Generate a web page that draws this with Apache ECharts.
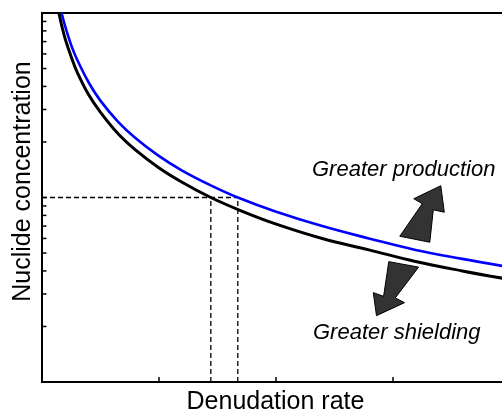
<!DOCTYPE html>
<html>
<head>
<meta charset="utf-8">
<script src="https://cdn.jsdelivr.net/npm/echarts@6/dist/echarts.min.js"></script>
<style>
  html, body { margin: 0; padding: 0; background: #fff; }
  #chart { width: 502px; height: 411px; }
</style>
</head>
<body>
<div id="chart"></div>
<script>
// Concentration versus denudation rate for two production scenarios
const lowerCurve = [
  [0.145, 100], [0.17, 85], [0.2, 72], [0.25, 58], [0.3, 48], [0.4, 36],
  [0.5, 29], [0.65, 22.2], [0.8, 18.1], [1.0, 14.5], [1.2, 12.1], [1.446, 10],
  [1.7, 8.5], [2.0, 7.2], [2.4, 6.0], [2.8, 5.2], [3.2, 4.5], [3.6, 4.0], [4.0, 3.6]
];
const upperCurve = [
  [0.168, 100], [0.2, 84], [0.25, 67], [0.3, 56], [0.4, 42], [0.5, 33.5],
  [0.65, 25.8], [0.8, 21], [1.0, 16.8], [1.2, 14], [1.45, 11.6], [1.677, 10],
  [2.0, 8.4], [2.4, 7.0], [2.8, 6.0], [3.2, 5.2], [3.6, 4.65], [4.0, 4.2]
];

// Reference concentration and the two rates that yield it
const refConcentration = 10;
const rateLower = 1.446;
const rateUpper = 1.677;

// Minor ticks of the logarithmic concentration axis
const yTickValues = [2, 3, 4, 5, 6, 7, 8, 9, 10, 20, 30, 40, 50, 60, 70, 80, 90];

// Arrow anchors (rate, concentration): 0 = up arrow, 1 = down arrow
const arrowAnchors = [[3.193, 5.94, 0], [3.098, 4.34, 1]];

// Arrow outlines in pixels, relative to the anchor
const arrowShapes = [
  [[-15, -3], [7.5, -35.5], [-1, -40.5], [26, -53.5], [29.5, -27], [18.5, -29.5], [15, 3]],
  [[-14.9, -2.75], [14.9, 2.75], [-8.4, 33.5], [0.8, 38.25], [-27.2, 51.25], [-30.4, 28.25], [-20.1, 31.95]]
];

const chart = echarts.init(document.getElementById('chart'), null, { renderer: 'canvas' });

const dashed = { color: '#000', width: 1.3, type: [5, 3] };

chart.setOption({
  animation: false,
  backgroundColor: '#fff',
  // the frame runs on past the right edge of the canvas
  grid: {
    left: 42, width: 467, top: 13, height: 369,
    outerBoundsMode: 'none', containLabel: false,
    show: true, borderColor: '#000', borderWidth: 2, backgroundColor: 'transparent'
  },
  xAxis: {
    type: 'value', min: 0, max: 4, interval: 1,
    axisLine: { show: true, onZero: false, lineStyle: { color: '#000', width: 2 } },
    axisTick: { show: true, inside: true, length: 5, lineStyle: { color: '#000', width: 1.5 } },
    axisLabel: { show: false },
    splitLine: { show: false }
  },
  yAxis: {
    type: 'log', logBase: 10, min: 1, max: 100,
    axisLine: { show: true, lineStyle: { color: '#000', width: 2 } },
    axisTick: { show: false },
    axisLabel: { show: false },
    splitLine: { show: false },
    minorTick: { show: false }
  },
  graphic: [
    {
      type: 'text', x: 23, y: 181.5, rotation: Math.PI / 2,
      style: {
        text: 'Nuclide concentration', fill: '#000',
        font: '25px "Liberation Sans", Arial, sans-serif',
        textAlign: 'center', textVerticalAlign: 'middle'
      }
    },
    {
      type: 'text', x: 275.5, y: 402,
      style: {
        text: 'Denudation rate', fill: '#000',
        font: '25px "Liberation Sans", Arial, sans-serif',
        textAlign: 'center', textVerticalAlign: 'middle'
      }
    },
    {
      type: 'text', x: 312, y: 169.5,
      style: {
        text: 'Greater production', fill: '#000',
        font: 'italic 22px "Liberation Sans", Arial, sans-serif',
        textAlign: 'left', textVerticalAlign: 'middle'
      }
    },
    {
      type: 'text', x: 313, y: 333,
      style: {
        text: 'Greater shielding', fill: '#000',
        font: 'italic 22px "Liberation Sans", Arial, sans-serif',
        textAlign: 'left', textVerticalAlign: 'middle'
      }
    }
  ],
  series: [
    {
      type: 'line', symbol: 'none', silent: true, z: 1,
      data: [[0, refConcentration], [rateUpper, refConcentration]],
      lineStyle: dashed
    },
    {
      type: 'line', symbol: 'none', silent: true, z: 1,
      data: [[rateLower, 1], [rateLower, refConcentration]],
      lineStyle: dashed
    },
    {
      type: 'line', symbol: 'none', silent: true, z: 1,
      data: [[rateUpper, 1], [rateUpper, refConcentration]],
      lineStyle: dashed
    },
    {
      type: 'line', name: 'upper', symbol: 'none', smooth: 0.4, clip: true, z: 3,
      data: upperCurve,
      lineStyle: { color: '#0000ff', width: 2.6 }
    },
    {
      type: 'line', name: 'lower', symbol: 'none', smooth: 0.4, clip: true, z: 3,
      data: lowerCurve,
      lineStyle: { color: '#000', width: 3 }
    },
    {
      type: 'custom', silent: true, z: 5,
      data: yTickValues.map(v => [0, v]),
      encode: { x: 0, y: 1 },
      renderItem: function (params, api) {
        const p = api.coord([api.value(0), api.value(1)]);
        return {
          type: 'line',
          shape: { x1: p[0], y1: p[1], x2: p[0] + 4.5, y2: p[1] },
          style: { stroke: '#000', lineWidth: 1.5 }
        };
      }
    },
    {
      type: 'custom', silent: true, z: 6,
      data: arrowAnchors,
      encode: { x: 0, y: 1 },
      renderItem: function (params, api) {
        const c = api.coord([api.value(0), api.value(1)]);
        const shape = arrowShapes[api.value(2)];
        return {
          type: 'polygon',
          shape: { points: shape.map(o => [c[0] + o[0], c[1] + o[1]]) },
          style: { fill: '#333333', stroke: '#000', lineWidth: 1 }
        };
      }
    }
  ]
});
</script>
</body>
</html>
